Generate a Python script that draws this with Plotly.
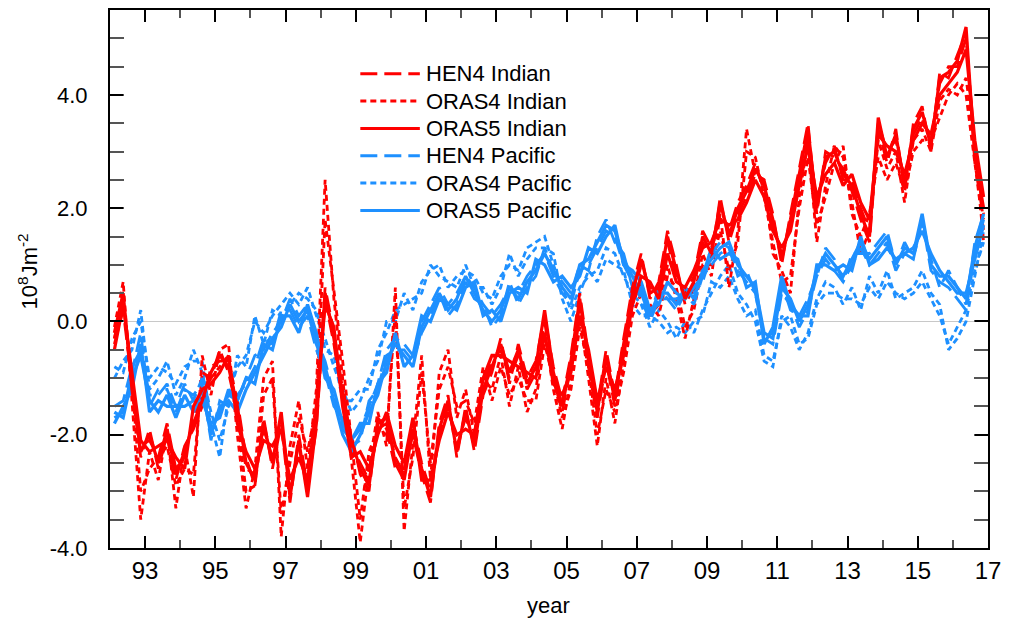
import plotly.graph_objects as go

# Quarterly time axis, 1992-2016 (values at the centre of each quarter)
years = [1992 + (i + 0.5) / 4 for i in range(100)]

# Indian Ocean heat content anomaly (10^8 J m^-2), two ensemble members per product
ind_oras5_a = [
    -0.2, 0.5, -1.2, -2.3, -2.0, -2.5, -1.9, -2.7, -2.3, -1.8, -1.4, -0.9,
    -0.6, -0.8, -1.5, -2.5, -2.8, -1.8, -2.5, -1.6, -3.1, -2.1, -3.1, -1.8,
    0.5, -0.3, -1.3, -2.1, -2.6, -2.9, -1.8, -1.7, -2.5, -2.8, -1.9, -2.6,
    -3.1, -1.9, -1.4, -2.3, -1.6, -2.2, -1.2, -0.8, -0.4, -0.9, -0.5, -1.1,
    -0.8, 0.2, -0.9, -1.5, -0.7, 0.4, -0.7, -1.6, -0.6, -1.4, -0.4, 0.5,
    1.1, 0.5, 0.6, 1.5, 0.9, 0.4, 0.7, 1.5, 1.2, 2.1, 1.5, 2.0,
    2.3, 2.7, 2.4, 1.8, 1.1, 1.8, 2.6, 3.4, 2.0, 2.9, 3.0, 2.6,
    2.4, 1.9, 1.5, 3.6, 2.9, 3.3, 2.4, 3.4, 3.7, 3.1, 4.3, 4.4,
    4.6, 5.2, 2.9, 2.0,
]
ind_oras5_b = [
    -0.5, 0.3, -0.9, -2.1, -2.3, -2.2, -2.1, -2.4, -2.6, -1.5, -1.2, -1.1,
    -0.9, -0.6, -1.8, -2.3, -2.6, -2.1, -2.2, -1.9, -2.8, -2.4, -2.8, -1.5,
    0.3, -0.1, -1.5, -2.4, -2.3, -2.6, -2.0, -1.6, -2.2, -2.5, -1.7, -2.8,
    -2.8, -2.1, -1.6, -2.0, -1.9, -2.0, -1.0, -0.6, -0.6, -0.7, -0.8, -0.9,
    -1.0, -0.2, -1.1, -1.3, -0.9, 0.1, -0.5, -1.4, -0.8, -1.2, -0.6, 0.3,
    0.8, 0.7, 0.4, 1.2, 0.7, 0.6, 0.9, 1.3, 1.4, 1.8, 1.7, 1.8,
    2.1, 2.5, 2.2, 1.6, 1.3, 1.6, 2.4, 3.1, 2.2, 2.6, 2.8, 2.4,
    2.6, 2.1, 1.8, 3.3, 3.1, 3.0, 2.6, 3.2, 3.5, 3.3, 4.0, 4.2,
    4.4, 4.8, 3.2, 2.2,
]
ind_hen4_a = [
    -0.3, 0.4, -1.0, -2.2, -2.1, -2.4, -1.8, -2.6, -2.4, -1.7, -1.3, -1.0,
    -0.5, -0.9, -1.6, -2.6, -2.7, -1.9, -2.4, -1.7, -3.0, -2.2, -3.0, -1.7,
    0.6, -0.2, -1.2, -2.2, -2.5, -2.8, -1.9, -1.8, -2.4, -2.7, -1.8, -2.5,
    -3.0, -2.0, -1.5, -2.2, -1.7, -2.1, -1.1, -0.7, -0.5, -1.0, -0.6, -1.2,
    -0.9, 0.0, -1.0, -1.6, -0.8, 0.3, -0.8, -1.7, -0.7, -1.5, -0.5, 0.4,
    1.0, 0.6, 0.5, 1.4, 0.8, 0.5, 0.8, 1.6, 1.3, 2.0, 1.6, 2.1,
    2.4, 2.8, 2.3, 1.7, 1.2, 1.7, 2.5, 3.3, 2.1, 2.8, 3.1, 2.5,
    2.5, 2.0, 1.6, 3.5, 3.0, 3.2, 2.5, 3.3, 3.6, 3.2, 4.2, 4.5,
    4.5, 5.0, 3.0, 1.9,
]
ind_hen4_b = [
    -0.4, 0.2, -1.1, -2.4, -1.9, -2.6, -2.0, -2.8, -2.2, -1.9, -1.5, -0.8,
    -0.7, -0.7, -1.4, -2.4, -2.9, -1.7, -2.6, -1.8, -3.2, -2.0, -2.9, -1.9,
    0.4, -0.4, -1.4, -2.0, -2.7, -3.0, -1.7, -1.9, -2.6, -2.6, -2.0, -2.7,
    -3.2, -1.8, -1.3, -2.4, -1.5, -2.3, -1.3, -0.9, -0.3, -1.1, -0.4, -1.0,
    -0.7, 0.1, -0.8, -1.4, -0.6, 0.5, -0.6, -1.5, -0.5, -1.3, -0.3, 0.6,
    1.2, 0.4, 0.7, 1.6, 1.0, 0.3, 0.6, 1.4, 1.1, 2.2, 1.4, 1.9,
    2.2, 2.6, 2.5, 1.9, 1.0, 1.9, 2.7, 3.5, 1.9, 3.0, 2.9, 2.7,
    2.3, 1.8, 1.4, 3.4, 2.8, 3.4, 2.3, 3.5, 3.8, 3.0, 4.4, 4.3,
    4.7, 5.1, 2.8, 1.8,
]
ind_oras4_a = [
    -0.1, 0.7, -1.4, -3.5, -2.3, -2.8, -1.9, -3.3, -2.2, -3.1, -0.6, -1.3,
    -0.5, -0.4, -2.0, -3.3, -2.6, -1.0, -0.7, -3.8, -2.2, -1.4, -2.6, -1.2,
    2.5, 0.4, -1.0, -2.4, -3.9, -2.6, -1.6, -2.2, 0.6, -3.7, -2.2, -0.6,
    -2.8, -0.9, -0.5, -1.7, -1.2, -2.0, -1.0, -1.2, -0.6, -1.5, -0.8, -1.6,
    -1.2, -0.2, -1.2, -1.9, -1.0, 0.1, -1.0, -2.2, -1.0, -1.8, -0.7, 0.3,
    0.7, 0.1, 0.3, 1.0, 0.4, -0.3, 0.4, 1.2, 0.8, 1.9, 0.6, 1.6,
    3.4, 2.6, 2.5, 1.2, 0.9, 0.5, 2.2, 3.2, 1.4, 2.4, 3.1, 2.9,
    2.1, 1.2, 1.6, 3.2, 2.7, 3.0, 2.1, 3.2, 3.4, 3.0, 3.9, 4.1,
    4.0, 4.3, 3.1, 1.4,
]
ind_oras4_b = [
    -0.3, 0.4, -1.1, -3.0, -2.6, -2.4, -2.2, -2.9, -2.6, -2.7, -0.9, -1.0,
    -0.8, -0.6, -1.7, -3.0, -2.9, -1.3, -1.0, -3.4, -2.5, -1.7, -2.3, -1.5,
    1.8, 0.6, -0.7, -2.1, -3.5, -2.3, -1.9, -2.0, 0.2, -3.3, -2.4, -0.9,
    -2.5, -1.2, -0.8, -1.5, -1.4, -1.8, -0.8, -1.4, -0.8, -1.3, -1.0, -1.4,
    -1.4, -0.4, -1.0, -1.7, -1.2, -0.1, -0.8, -2.0, -1.2, -1.6, -0.9, 0.1,
    0.5, 0.3, 0.1, 0.8, 0.6, -0.1, 0.2, 1.0, 1.0, 1.6, 0.9, 1.4,
    3.0, 2.9, 2.2, 1.4, 0.7, 0.8, 2.0, 2.9, 1.7, 2.2, 2.8, 3.1,
    1.9, 1.5, 1.9, 2.9, 2.5, 2.8, 2.3, 3.0, 3.2, 3.2, 3.6, 4.0,
    4.2, 4.0, 2.8, 1.6,
]

# Pacific Ocean heat content anomaly (10^8 J m^-2)
pac_oras5_a = [
    -1.6, -1.7, -1.0, -0.6, -1.4, -1.6, -1.3, -1.7, -1.3, -1.6, -1.2, -2.0,
    -1.5, -1.4, -1.6, -1.2, -0.9, -0.6, -0.3, -0.1, 0.3, 0.0, 0.2, -0.4,
    -0.8, -1.4, -2.0, -2.3, -2.0, -1.6, -1.3, -0.7, -0.4, -0.6, -0.8, -0.1,
    0.2, 0.5, 0.2, 0.4, 0.8, 0.5, 0.2, 0.0, 0.2, 0.6, 0.4, 0.7,
    0.9, 1.2, 0.9, 0.6, 0.4, 1.0, 1.1, 1.4, 1.7, 1.6, 1.1, 0.8,
    0.5, 0.1, 0.5, 0.5, 0.3, 0.6, 0.4, 0.9, 1.1, 1.3, 1.4, 1.0,
    0.8, 0.6, -0.2, -0.3, 0.6, 0.4, 0.0, 0.3, 0.9, 1.2, 1.0, 0.8,
    1.1, 1.4, 1.1, 1.3, 1.5, 1.0, 1.3, 1.2, 1.9, 1.0, 0.8, 0.8,
    0.6, 0.4, 1.3, 1.9,
]
pac_oras5_b = [
    -1.8, -1.5, -1.2, -0.4, -1.6, -1.4, -1.5, -1.5, -1.5, -1.4, -1.4, -1.8,
    -1.7, -1.2, -1.4, -1.0, -1.1, -0.4, -0.5, 0.1, 0.1, -0.2, 0.3, -0.2,
    -1.0, -1.2, -1.8, -2.1, -1.8, -1.8, -1.1, -0.9, -0.2, -0.8, -0.6, 0.1,
    0.0, 0.4, 0.3, 0.2, 0.6, 0.7, 0.1, 0.2, 0.0, 0.5, 0.6, 0.5,
    1.1, 1.0, 0.7, 0.8, 0.6, 0.8, 1.3, 1.2, 1.5, 1.7, 1.0, 0.9,
    0.7, 0.2, 0.3, 0.7, 0.5, 0.4, 0.6, 0.8, 1.3, 1.1, 1.2, 1.1,
    0.6, 0.7, -0.4, -0.1, 0.8, 0.3, 0.1, 0.1, 1.0, 1.0, 0.9, 1.0,
    0.9, 1.5, 1.0, 1.1, 1.3, 1.1, 1.2, 1.3, 1.6, 1.2, 0.9, 0.7,
    0.5, 0.5, 1.1, 1.7,
]
pac_hen4_a = [
    -1.5, -1.4, -0.8, -0.5, -1.3, -1.3, -1.1, -1.5, -1.1, -1.4, -1.0, -1.9,
    -1.6, -1.3, -1.4, -1.0, -0.6, -0.5, -0.2, 0.0, 0.4, 0.1, 0.3, -0.3,
    -0.7, -1.3, -1.9, -2.1, -1.9, -1.5, -1.1, -0.5, -0.3, -0.4, -0.6, 0.0,
    0.3, 0.6, 0.3, 0.5, 0.8, 0.6, 0.3, 0.1, 0.3, 0.6, 0.5, 0.8,
    1.0, 1.2, 0.8, 0.5, 0.3, 0.9, 1.0, 1.3, 1.6, 1.5, 1.0, 0.7,
    0.4, 0.0, 0.4, 0.4, 0.2, 0.5, 0.3, 0.8, 1.0, 1.2, 1.3, 0.9,
    0.7, 0.5, -0.3, -0.4, 0.5, 0.3, -0.1, 0.2, 0.8, 1.1, 0.9, 0.7,
    1.0, 1.3, 1.0, 1.2, 1.4, 0.9, 1.2, 1.1, 1.8, 0.9, 0.7, 0.6,
    0.4, 0.2, 1.2, 1.8,
]
pac_hen4_b = [
    -1.7, -1.6, -0.9, -0.2, -1.5, -1.2, -1.2, -1.6, -1.2, -1.3, -1.1, -2.1,
    -1.4, -1.5, -1.3, -1.1, -0.8, -0.3, -0.4, 0.2, 0.2, -0.1, 0.1, -0.5,
    -0.9, -1.5, -1.7, -2.2, -2.1, -1.4, -1.2, -0.6, -0.5, -0.5, -0.7, -0.2,
    0.1, 0.5, 0.1, 0.3, 0.7, 0.4, 0.3, -0.1, 0.1, 0.7, 0.3, 0.6,
    0.8, 1.3, 0.9, 0.7, 0.5, 1.0, 0.9, 1.5, 1.8, 1.4, 1.2, 0.6,
    0.6, 0.1, 0.6, 0.4, 0.4, 0.5, 0.5, 0.7, 1.2, 1.4, 1.3, 0.8,
    0.9, 0.5, -0.3, -0.2, 0.7, 0.2, 0.1, 0.4, 0.8, 1.3, 1.1, 0.7,
    1.2, 1.2, 1.2, 1.4, 1.6, 1.0, 1.4, 1.1, 1.8, 1.1, 0.6, 0.9,
    0.6, 0.3, 1.4, 1.9,
]
pac_oras4_a = [
    -0.8, -0.9, -0.3, 0.0, -1.0, -0.8, -0.9, -1.1, -0.8, -0.7, -0.7, -1.8,
    -2.4, -1.3, -0.8, -0.6, 0.0, -0.2, 0.1, 0.3, 0.5, 0.3, 0.6, 0.1,
    -0.3, -0.8, -1.2, -1.6, -1.4, -1.0, -0.7, 0.0, 0.0, 0.5, 0.2, 0.7,
    0.9, 1.0, 0.6, 0.8, 0.9, 0.8, 0.5, 0.4, 0.8, 1.0, 0.9, 1.3,
    1.4, 1.5, 1.0, 0.6, 0.2, 0.6, 0.8, 0.9, 1.3, 1.2, 0.8, 0.5,
    0.3, -0.1, 0.2, 0.0, -0.3, 0.0, -0.2, 0.2, 0.5, 0.8, 1.0, 0.5,
    0.3, 0.0, -0.7, -0.8, 0.1, -0.1, -0.5, -0.2, 0.4, 0.7, 0.6, 0.3,
    0.6, 0.2, 0.8, 0.5, 0.9, 0.4, 0.5, 0.6, 0.9, 0.5, 0.3, -0.5,
    -0.3, 0.0, 0.8, 1.6,
]
pac_oras4_b = [
    -1.0, -0.7, -0.5, 0.2, -1.2, -1.0, -0.7, -1.3, -1.0, -0.5, -0.9, -1.6,
    -2.1, -1.5, -0.6, -0.8, 0.1, -0.4, 0.2, 0.1, 0.3, 0.5, 0.4, 0.2,
    -0.5, -0.6, -1.4, -1.4, -1.2, -1.2, -0.5, -0.2, 0.2, 0.3, 0.4, 0.5,
    1.0, 0.8, 0.7, 0.6, 1.0, 0.6, 0.6, 0.3, 0.6, 1.2, 0.8, 1.1,
    1.3, 1.3, 1.2, 0.4, 0.0, 0.5, 0.9, 0.7, 1.1, 1.0, 0.9, 0.3,
    0.1, 0.1, 0.0, -0.2, -0.1, -0.2, 0.0, 0.1, 0.7, 0.6, 0.8, 0.4,
    0.1, 0.2, -0.6, -0.7, 0.0, 0.1, -0.4, -0.3, 0.3, 0.5, 0.5, 0.4,
    0.4, 0.3, 0.6, 0.4, 0.7, 0.5, 0.4, 0.5, 0.7, 0.4, 0.1, -0.4,
    -0.1, 0.2, 0.9, 1.4,
]

# Axis tick labels
xtick_vals = [1993, 1995, 1997, 1999, 2001, 2003, 2005, 2007, 2009, 2011, 2013, 2015, 2017]
xtick_text = ["93", "95", "97", "99", "01", "03", "05", "07", "09", "11", "13", "15", "17"]
ytick_vals = [-4, -2, 0, 2, 4]
ytick_text = ["-4.0", "-2.0", "0.0", "2.0", "4.0"]

RED = "#FF0000"
BLUE = "#1E90FF"
DOT = "6px,4px"
DASH = "17px,7px"

# (label, colour, dash, width, members) in drawing order
series = [
    ("ORAS4 Pacific", BLUE, DOT, 2.8, [pac_oras4_a, pac_oras4_b]),
    ("ORAS4 Indian", RED, DOT, 2.8, [ind_oras4_a, ind_oras4_b]),
    ("HEN4 Pacific", BLUE, DASH, 2.8, [pac_hen4_a, pac_hen4_b]),
    ("HEN4 Indian", RED, DASH, 2.8, [ind_hen4_a, ind_hen4_b]),
    ("ORAS5 Pacific", BLUE, "solid", 3.2, [pac_oras5_a, pac_oras5_b]),
    ("ORAS5 Indian", RED, "solid", 3.2, [ind_oras5_a, ind_oras5_b]),
]

fig = go.Figure()
for name, color, dash, width, members in series:
    for vals in members:
        fig.add_trace(go.Scatter(
            x=years, y=vals, mode="lines", name=name, showlegend=False,
            line=dict(color=color, width=width, dash=dash),
        ))

FONT = "Liberation Sans, Arial, sans-serif"

fig.update_layout(
    width=1009, height=621,
    margin=dict(l=110, r=15, t=8, b=73),
    paper_bgcolor="white", plot_bgcolor="white",
    font=dict(family=FONT, color="black"),
    xaxis=dict(
        range=[1992, 2017], tickvals=xtick_vals, ticktext=xtick_text,
        ticks="inside", ticklen=12, tickwidth=2, tickcolor="black",
        showline=True, linewidth=2, linecolor="black", mirror="allticks",
        showgrid=False, zeroline=False,
        tickfont=dict(size=24, family=FONT), ticklabelstandoff=0,
        minor=dict(dtick=1, ticks="inside", ticklen=8, tickwidth=1.5, tickcolor="#555555", showgrid=False),
    ),
    yaxis=dict(
        range=[-4, 5.5], tickvals=ytick_vals, ticktext=ytick_text,
        ticks="inside", ticklen=13, tickwidth=2, tickcolor="black",
        showline=True, linewidth=2, linecolor="black", mirror="allticks",
        showgrid=False, zeroline=True, zerolinecolor="#C8C8C8", zerolinewidth=1,
        tickfont=dict(size=22, family=FONT), ticklabelstandoff=16,
        minor=dict(dtick=0.5, ticks="inside", ticklen=14, tickwidth=1.5, tickcolor="#555555", showgrid=False),
    ),
)

# Axis titles
fig.add_annotation(
    text="year", xref="paper", yref="paper", x=0.4989, y=-0.106,
    xanchor="center", yanchor="middle", showarrow=False,
    font=dict(size=22, family=FONT),
)
fig.add_annotation(
    text="10<sup>8</sup>Jm<sup>-2</sup>", xref="paper", yref="paper", x=-0.094, y=0.515,
    xanchor="center", yanchor="middle", textangle=-90, showarrow=False,
    font=dict(size=22, family=FONT),
)

# Legend: line sample plus label for each product
legend_rows = [
    ("HEN4 Indian", RED, DASH),
    ("ORAS4 Indian", RED, DOT),
    ("ORAS5 Indian", RED, "solid"),
    ("HEN4 Pacific", BLUE, DASH),
    ("ORAS4 Pacific", BLUE, DOT),
    ("ORAS5 Pacific", BLUE, "solid"),
]
row_y0 = 0.8815
row_step = 0.0508
for k, (label, color, dash) in enumerate(legend_rows):
    yk = row_y0 - k * row_step
    fig.add_shape(
        type="line", xref="paper", yref="paper", x0=0.2851, x1=0.3529, y0=yk, y1=yk,
        line=dict(color=color, width=3, dash=dash),
    )
    fig.add_annotation(
        text=label, xref="paper", yref="paper", x=0.3575, y=yk,
        xanchor="left", yanchor="middle", showarrow=False,
        font=dict(size=22, family=FONT),
    )

fig.write_html("out.html")
